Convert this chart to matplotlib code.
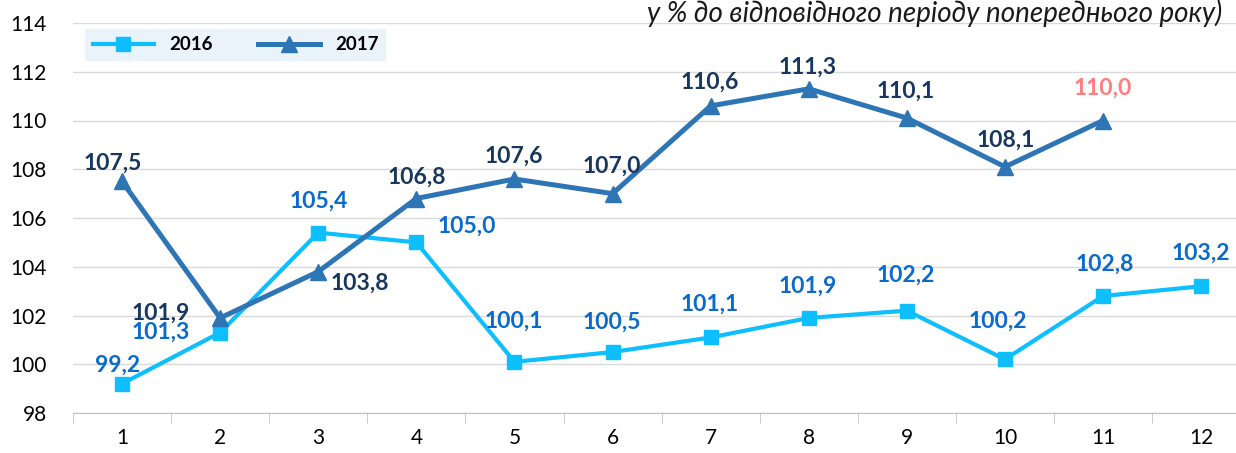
import matplotlib.pyplot as plt
from matplotlib.ticker import MultipleLocator

plt.rcParams['font.family'] = ['Lato', 'DejaVu Sans']

# Data
months = [1, 2, 3, 4, 5, 6, 7, 8, 9, 10, 11, 12]
y2016 = [99.2, 101.3, 105.4, 105.0, 100.1, 100.5, 101.1, 101.9, 102.2, 100.2, 102.8, 103.2]
months_2017 = [1, 2, 3, 4, 5, 6, 7, 8, 9, 10, 11]
y2017 = [107.5, 101.9, 103.8, 106.8, 107.6, 107.0, 110.6, 111.3, 110.1, 108.1, 110.0]

# label offsets in pixels (dx, dy)
off2016 = [(-4, 19), (-59, 0), (1, 31), (50, 16), (-1, 41), (-1, 30), (-1, 33), (-1, 32), (-1, 35), (-7, 38), (2, 32), (0, 33)]
off2017 = [(-9, 18), (-59, 5), (42, -12), (0, 21), (-1, 23), (-1, 27), (-1, 24), (-1, 22), (-1, 27), (1, 27), (0, 32)]

c16 = '#0DBFFF'
c17 = '#2E75B6'
lab16 = '#0B6BCB'
lab17 = '#17375E'

fig = plt.figure(figsize=(12.36, 4.53), dpi=100)
ax = fig.add_axes([73 / 1236, 1 - 413 / 453, 1 - 73 / 1236, (413 - 23) / 453])

ax.plot(months, y2016, color=c16, lw=3, marker='s', ms=10, label='2016', zorder=3)
ax.plot(months_2017, y2017, color=c17, lw=3.6, marker='^', ms=11, label='2017', zorder=4)

for x, y, (dx, dy) in zip(months, y2016, off2016):
    ax.annotate(f'{y:.1f}'.replace('.', ','), (x, y), xytext=(dx, dy), textcoords='offset pixels',
                ha='center', va='center', fontsize=16.5, fontweight='bold', color=lab16, zorder=5)
for i, (x, y, (dx, dy)) in enumerate(zip(months_2017, y2017, off2017)):
    col = '#FF7C80' if i == len(y2017) - 1 else lab17
    ax.annotate(f'{y:.1f}'.replace('.', ','), (x, y), xytext=(dx, dy), textcoords='offset pixels',
                ha='center', va='center', fontsize=16.5, fontweight='bold', color=col, zorder=5)

ax.yaxis.set_major_locator(MultipleLocator(2))
ax.set_xticks(months)
ax.set_xticks([m + 0.5 for m in range(0, 13)], minor=True)
ax.set_ylim(98, 114)
ax.set_xlim(0.5, 0.5 + (1236 - 73) / 98.1)
ax.tick_params(axis='x', which='major', length=0, pad=11, labelsize=15)
ax.tick_params(axis='x', which='minor', length=7, color='#BFBFBF')
ax.tick_params(axis='y', length=0, pad=19, labelsize=15)
ax.grid(axis='y', color='#D9D9D9', lw=1)
ax.set_axisbelow(True)
for s in ['left', 'right', 'top']:
    ax.spines[s].set_visible(False)
ax.spines['bottom'].set_color('#BFBFBF')
ax.spines['bottom'].set_zorder(0)

leg = ax.legend(loc='upper left', bbox_to_anchor=(12 / 1163, 1 - 6 / 390), ncol=2, frameon=True,
                fancybox=False, handlelength=3.3, columnspacing=2.4, borderpad=0.4,
                borderaxespad=0, prop={'weight': 'bold', 'size': 13.5})
leg.get_frame().set_facecolor('#EAF2FA')
leg.get_frame().set_edgecolor('none')
leg.get_frame().set_alpha(1)

fig.text(1222 / 1236, 1 - 13 / 453, 'у % до відповідного періоду попереднього року)',
         ha='right', va='center', fontsize=20, style='italic', color='#1A1A1A')

fig.savefig('out.png', dpi=100)
